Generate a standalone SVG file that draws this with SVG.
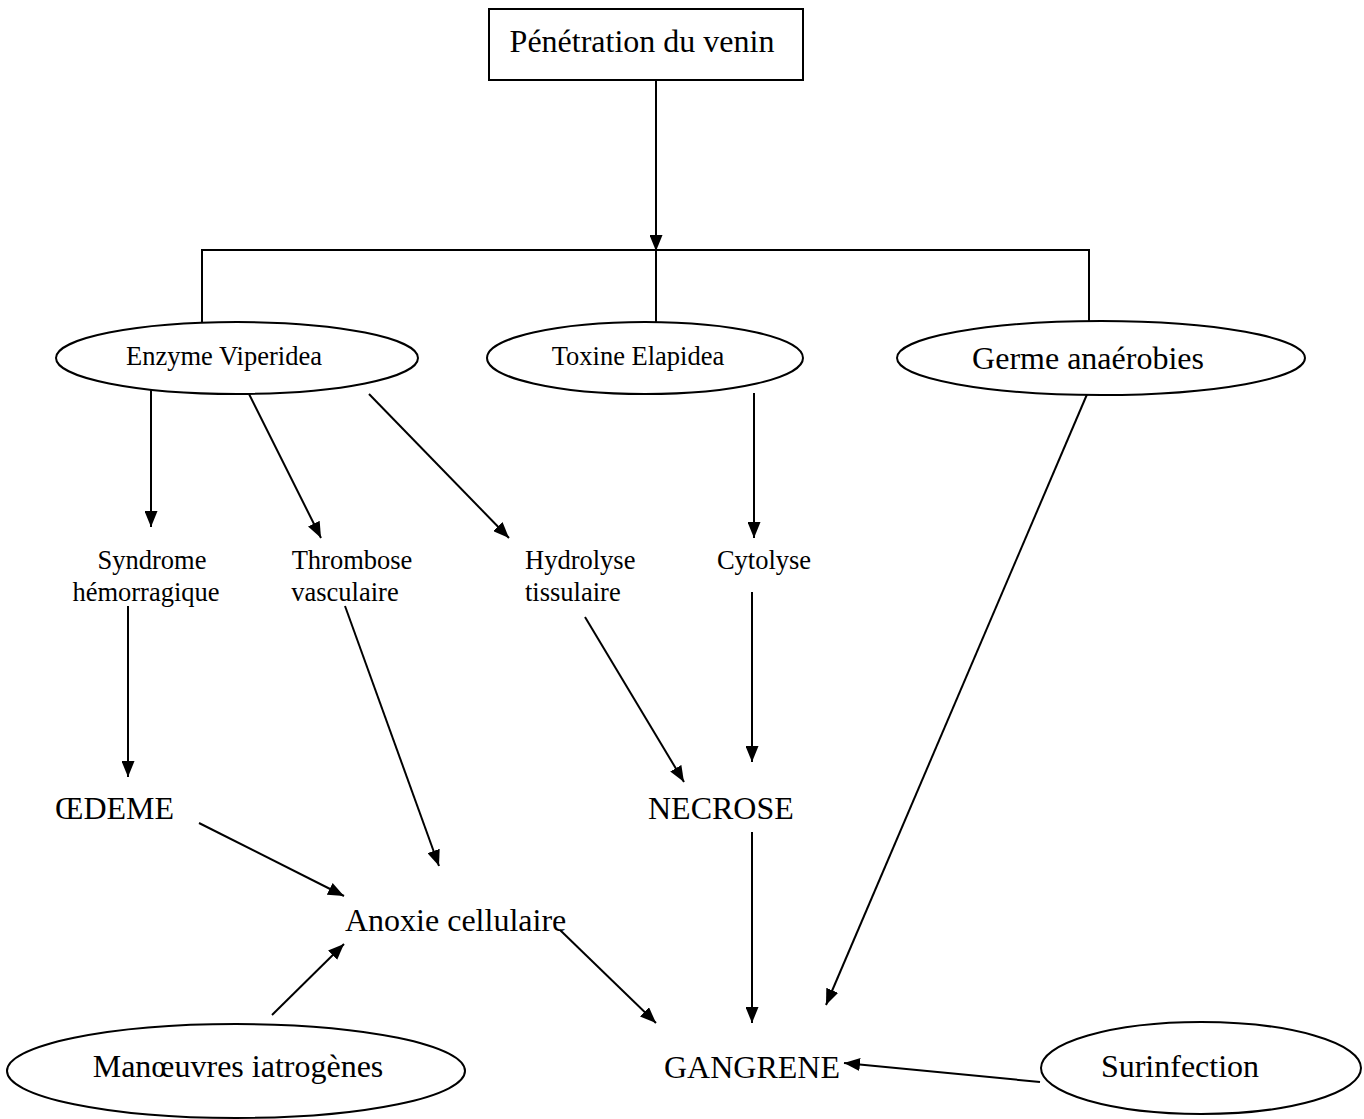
<svg xmlns="http://www.w3.org/2000/svg" width="1364" height="1119" viewBox="0 0 1364 1119">
<style>
text{font-family:"Liberation Serif","Times New Roman",serif;fill:#000}
.s{font-size:26.5px}
.l{font-size:32px}
.shape{fill:#fff;stroke:#000;stroke-width:2}
.c line,.c polyline{stroke:#000;stroke-width:2;fill:none}
</style>
<defs>
<marker id="ah" viewBox="0 0 16 13" refX="16" refY="6.5" markerWidth="16" markerHeight="13" markerUnits="userSpaceOnUse" orient="auto">
<path d="M0,0 L16,6.5 L0,13 z" fill="#000"/>
</marker>
</defs>
<rect width="1364" height="1119" fill="#fff"/>
<g class="c" id="connectors">
<line x1="656" y1="80" x2="656" y2="251" marker-end="url(#ah)"/>
<polyline points="202,322 202,250 1089,250 1089,330"/>
<line x1="656" y1="250" x2="656" y2="343"/>
<line x1="151" y1="388" x2="151" y2="527" marker-end="url(#ah)"/>
<line x1="249" y1="394" x2="321" y2="538" marker-end="url(#ah)"/>
<line x1="369" y1="394" x2="509" y2="538" marker-end="url(#ah)"/>
<line x1="754" y1="393" x2="754" y2="538" marker-end="url(#ah)"/>
<line x1="1088" y1="392" x2="826" y2="1005" marker-end="url(#ah)"/>
<line x1="128" y1="606" x2="128" y2="777" marker-end="url(#ah)"/>
<line x1="345" y1="606" x2="439" y2="866" marker-end="url(#ah)"/>
<line x1="585" y1="617" x2="684" y2="782" marker-end="url(#ah)"/>
<line x1="752" y1="592" x2="752" y2="762" marker-end="url(#ah)"/>
<line x1="199" y1="823" x2="344" y2="896" marker-end="url(#ah)"/>
<line x1="272" y1="1015" x2="344" y2="944" marker-end="url(#ah)"/>
<line x1="560" y1="930" x2="656" y2="1023" marker-end="url(#ah)"/>
<line x1="752" y1="832" x2="752" y2="1023" marker-end="url(#ah)"/>
<line x1="1040" y1="1082" x2="844" y2="1063" marker-end="url(#ah)"/>
</g>
<g id="penetration"><rect class="shape" x="489" y="9" width="314" height="71"/><text class="l" x="642" y="52" text-anchor="middle">Pénétration du venin</text></g>
<g id="enzyme"><ellipse class="shape" cx="237" cy="358" rx="181" ry="36"/><text class="s" x="224" y="365" text-anchor="middle">Enzyme Viperidea</text></g>
<g id="toxine"><ellipse class="shape" cx="645" cy="358" rx="158" ry="36"/><text class="s" x="638" y="365" text-anchor="middle">Toxine Elapidea</text></g>
<g id="germe"><ellipse class="shape" cx="1101" cy="358" rx="204" ry="37"/><text class="l" x="1088" y="369" text-anchor="middle">Germe anaérobies</text></g>
<g id="syndrome"><text class="s" x="152" y="569" text-anchor="middle">Syndrome</text><text class="s" x="146" y="601" text-anchor="middle">hémorragique</text></g>
<g id="thrombose"><text class="s" x="352" y="569" text-anchor="middle">Thrombose</text><text class="s" x="345" y="601" text-anchor="middle">vasculaire</text></g>
<g id="hydrolyse"><text class="s" x="525" y="569">Hydrolyse</text><text class="s" x="525" y="601">tissulaire</text></g>
<g id="cytolyse"><text class="s" x="764" y="569" text-anchor="middle">Cytolyse</text></g>
<g id="oedeme"><text class="l" x="55" y="819">ŒDEME</text></g>
<g id="necrose"><text class="l" x="648" y="819">NECROSE</text></g>
<g id="anoxie"><text class="l" x="345" y="931">Anoxie cellulaire</text></g>
<g id="gangrene"><text class="l" x="664" y="1078">GANGRENE</text></g>
<g id="manoeuvres"><ellipse class="shape" cx="236" cy="1071" rx="229" ry="47"/><text class="l" x="238" y="1077" text-anchor="middle">Manœuvres iatrogènes</text></g>
<g id="surinfection"><ellipse class="shape" cx="1201" cy="1068" rx="160" ry="46"/><text class="l" x="1180" y="1077" text-anchor="middle">Surinfection</text></g>
</svg>
